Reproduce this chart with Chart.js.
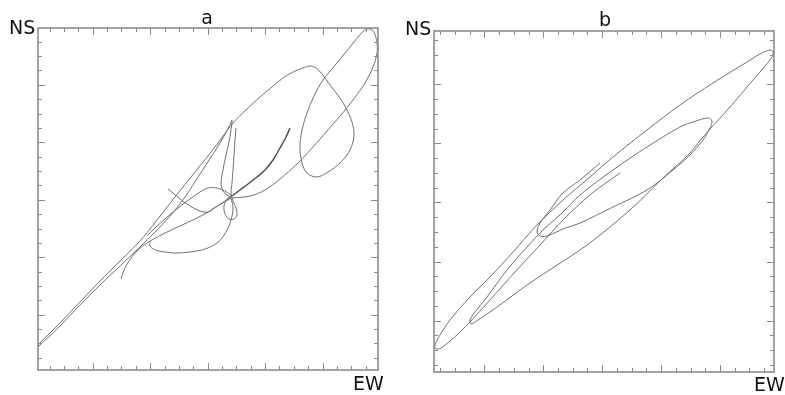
<!DOCTYPE html>
<html><head><meta charset="utf-8">
<script src="https://cdn.jsdelivr.net/npm/chart.js@4.4.0/dist/chart.umd.min.js"></script>
<style>
html,body{margin:0;padding:0;background:#fff;}
#wrap{position:relative;width:785px;height:395px;overflow:hidden;background:#fff;}
canvas{position:absolute;top:0;}
.lbl{position:absolute;font-family:"DejaVu Sans",sans-serif;font-size:19px;line-height:19px;color:#111;white-space:nowrap;}
.ttl{text-align:center;width:40px;}
</style></head><body>
<div id="wrap">
<canvas id="ca" width="392" height="395" style="left:0;width:392px;height:395px"></canvas>
<canvas id="cb" width="393" height="395" style="left:392px;width:393px;height:395px"></canvas>
<div class="lbl ttl" style="left:187px;top:8px">a</div>
<div class="lbl" style="left:9px;top:18px">NS</div>
<div class="lbl" style="left:353px;top:374px">EW</div>
<div class="lbl ttl" style="left:585px;top:10px">b</div>
<div class="lbl" style="left:405px;top:19px">NS</div>
<div class="lbl" style="left:754px;top:375px">EW</div>
</div>
<script>
// ---- Panel a: particle-motion traces, [EW, NS] in plot units ----
const aTrace1 = [[0,25],[22,47],[42,68],[62,89],[82,109],[102,129],[119,150],[137,173],[157,198],[177,223],[195,247],[209,261],[222,273],[234,283],[245,292],[255,298],[265,302],[272,304],[278,302],[284,296],[292,285],[302,272],[309,260],[314,248],[316,235],[312,220],[302,207],[290,198],[279,193],[269,197],[264,207],[262,223],[264,240],[269,257],[276,274],[285,290],[299,307],[312,323],[320,333],[327,340],[332,341],[336,338],[339,327],[339,317],[335,303],[327,287],[315,270],[303,255],[289,239],[275,223],[259,206],[242,191],[227,180],[212,174],[194,172]];
const aTrace2 = [[0,23],[22,44],[42,65],[62,85],[82,104],[102,123],[117,138],[132,154],[147,173],[162,196],[175,216],[185,232],[191,243],[194,250],[193,240],[191,228],[188,215],[185,200],[183,187],[185,179],[189,175],[193,173]];
const aTrace3 = [[198,242],[197,230],[196,215],[195,200],[194,187],[193,177],[195,169],[198,162],[199,155],[196,151],[191,151],[187,156],[186,164],[189,171],[193,174]];
const aTrace4 = [[252,242],[248,233],[242,222],[235,210],[227,200],[219,193],[210,186],[202,180],[194,174]];
const aTrace5 = [[83,91],[86,100],[91,109],[98,118],[106,125],[114,130],[127,137],[142,144],[157,151],[172,159],[184,167],[193,173]];
const aTrace6 = [[130,181],[135,177],[142,171],[152,164],[162,159],[170,158],[176,162],[183,166],[190,170],[194,173]];
const aTrace7 = [[194,174],[187,179],[179,182],[170,182],[162,178],[152,171],[140,162],[128,152],[117,142],[109,134]];
const aTrace8 = [[112,129],[112,124],[117,120],[127,118],[137,117],[152,118],[167,121],[179,127],[188,138],[193,150],[195,162],[193,172]];

// ---- Panel b ----
const bTrace1 = [[166,209],[146,192],[129,179],[116,162],[106,149],[103,140],[106,136],[113,136],[129,143],[146,149],[179,165],[213,182],[239,202],[256,217],[269,232],[276,244],[278,251],[274,254],[259,250],[246,245],[213,225],[179,202],[146,177],[129,160],[109,142],[93,125],[73,102],[53,75],[41,60],[36,52],[37,48],[44,52],[63,65],[96,89],[146,122],[161,133],[196,162],[229,194],[256,219],[269,235],[296,265],[319,292],[332,307],[338,315],[339,320],[336,322],[326,318],[313,310],[279,289],[246,267],[213,242],[179,215],[156,195],[129,172],[103,147],[79,120],[56,95],[36,75],[16,52],[6,37],[1,27],[2,23],[7,24],[16,31],[26,40],[36,50],[56,72],[81,100],[106,127],[131,154],[156,177],[176,192],[186,199]];

// axis extents (plot units) and tick spacing
const aRangeX = [0, 340], aRangeY = [0, 342];
const bRangeX = [0, 340], bRangeY = [0, 341];
const aTickX = {start:-2.8, step:14.37}, aTickY = {start:-2.2, step:14.37};
const bTickX = {start:-8.6, step:14.73}, bTickY = {start:-7.7, step:14.77};
const MAJOR_EVERY = 4;

function makeTicks(t, range){
  const out = [];
  for (let k = 0; k < 40; k++){
    const v = t.start + k*t.step;
    if (v > range[0] + 0.5 && v < range[1] - 0.5) out.push({v, major: k % MAJOR_EVERY === 0});
  }
  return out;
}

const framePlugin = {
  id: 'frame',
  afterDatasetsDraw(chart, args, opts){
    const {ctx, chartArea: ca, scales: {x, y}} = chart;
    ctx.save();
    ctx.strokeStyle = opts.color;
    ctx.lineWidth = 1;
    ctx.beginPath();
    opts.xTicks.forEach(t => {
      const len = t.major ? 7 : 4;
      const px = Math.round(x.getPixelForValue(t.v)) + 0.5;
      ctx.moveTo(px, ca.bottom); ctx.lineTo(px, ca.bottom - len);
      ctx.moveTo(px, ca.top); ctx.lineTo(px, ca.top + len);
    });
    opts.yTicks.forEach(t => {
      const len = t.major ? 7 : 4;
      const py = Math.round(y.getPixelForValue(t.v)) + 0.5;
      ctx.moveTo(ca.left, py); ctx.lineTo(ca.left + len, py);
      ctx.moveTo(ca.right, py); ctx.lineTo(ca.right - len, py);
    });
    ctx.stroke();
    ctx.lineWidth = 1.6;
    ctx.strokeRect(ca.left, ca.top, ca.right - ca.left, ca.bottom - ca.top);
    ctx.restore();
  }
};

function toDs(trace, color, width){
  return {
    data: trace.map(p => ({x: p[0], y: p[1]})),
    showLine: true, pointRadius: 0, borderColor: color, borderWidth: width,
    tension: 0.35, fill: false
  };
}

function build(id, traces, rx, ry, tx, ty, pad){
  return new Chart(document.getElementById(id), {
    type: 'scatter',
    data: {datasets: traces},
    options: {
      responsive: false, animation: false, devicePixelRatio: 1,
      layout: {padding: pad},
      scales: {
        x: {type: 'linear', min: rx[0], max: rx[1], display: false},
        y: {type: 'linear', min: ry[0], max: ry[1], display: false}
      },
      plugins: {
        legend: {display: false}, tooltip: {enabled: false}, title: {display: false},
        frame: {color: '#8c8c8c', xTicks: makeTicks(tx, rx), yTicks: makeTicks(ty, ry)}
      }
    },
    plugins: [framePlugin]
  });
}

const lineCol = '#707070';
build('ca', [
  toDs(aTrace1, lineCol, 1), toDs(aTrace2, lineCol, 1), toDs(aTrace3, lineCol, 1),
  toDs(aTrace4, '#505050', 1.5), toDs(aTrace5, lineCol, 1), toDs(aTrace6, lineCol, 1),
  toDs(aTrace7, lineCol, 1), toDs(aTrace8, lineCol, 1)
], aRangeX, aRangeY, aTickX, aTickY, {left: 38, top: 28, right: 14, bottom: 25});

build('cb', [toDs(bTrace1, lineCol, 1)], bRangeX, bRangeY, bTickX, bTickY,
  {left: 42, top: 31, right: 11, bottom: 23});
</script>
</body></html>
